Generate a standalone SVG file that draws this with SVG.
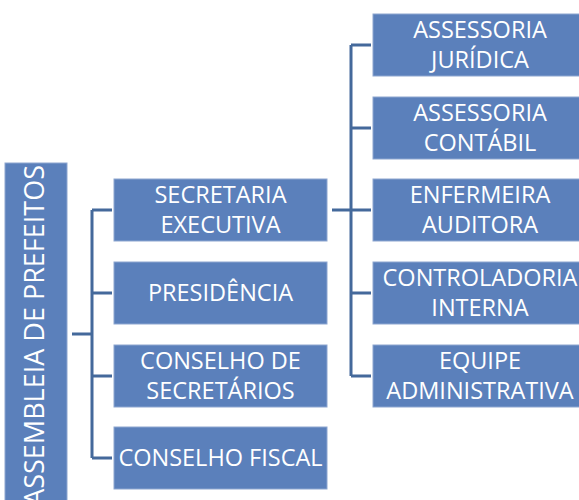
<svg xmlns="http://www.w3.org/2000/svg" width="579" height="500" viewBox="0 0 579 500">
<style>
.box{fill:#5B80BB;stroke:#8DA6D0;stroke-width:1}
.t{font-family:"Open Sans","Noto Sans","Liberation Sans",sans-serif;font-size:23.5px;fill:#ffffff;text-anchor:middle}
.tl{font-family:"Open Sans","Noto Sans","Liberation Sans",sans-serif;font-size:27px;fill:#ffffff;text-anchor:end}
.c{fill:none;stroke:#44699B;stroke-width:3}
</style>
<rect width="579" height="500" fill="#ffffff"/>
<g id="connectors">
<path class="c" d="M72,334 H92 M92,210 V458 M92,210 H112 M92,293 H112 M92,376 H112 M92,458 H112"/>
<path class="c" d="M332,210 H351 M351,45 V376 M351,45 H371 M351,128 H371 M351,210 H371 M351,293 H371 M351,376 H371"/>
</g>
<g id="assembleia">
<rect class="box" x="5" y="163" width="62" height="345"/>
<text class="tl" transform="translate(44,165) rotate(-90)">ASSEMBLEIA DE PREFEITOS</text>
</g>
<g id="secretaria">
<rect class="box" x="114" y="179" width="213" height="62"/>
<text class="t" x="220.5" y="203">SECRETARIA</text>
<text class="t" x="220.5" y="233">EXECUTIVA</text>
</g>
<g id="presidencia">
<rect class="box" x="114" y="262" width="213" height="62"/>
<text class="t" x="220.5" y="301">PRESIDÊNCIA</text>
</g>
<g id="conselho-secretarios">
<rect class="box" x="114" y="345" width="213" height="62"/>
<text class="t" x="220.5" y="369">CONSELHO DE</text>
<text class="t" x="220.5" y="399">SECRETÁRIOS</text>
</g>
<g id="conselho-fiscal">
<rect class="box" x="114" y="427" width="213" height="62"/>
<text class="t" x="220.5" y="466">CONSELHO FISCAL</text>
</g>
<g id="assessoria-juridica">
<rect class="box" x="373" y="14" width="214" height="62"/>
<text class="t" x="480" y="38">ASSESSORIA</text>
<text class="t" x="480" y="68">JURÍDICA</text>
</g>
<g id="assessoria-contabil">
<rect class="box" x="373" y="97" width="214" height="62"/>
<text class="t" x="480" y="121">ASSESSORIA</text>
<text class="t" x="480" y="151">CONTÁBIL</text>
</g>
<g id="enfermeira">
<rect class="box" x="373" y="179" width="214" height="62"/>
<text class="t" x="480" y="203">ENFERMEIRA</text>
<text class="t" x="480" y="233">AUDITORA</text>
</g>
<g id="controladoria">
<rect class="box" x="373" y="262" width="214" height="62"/>
<text class="t" x="480" y="286">CONTROLADORIA</text>
<text class="t" x="480" y="316">INTERNA</text>
</g>
<g id="equipe">
<rect class="box" x="373" y="345" width="214" height="62"/>
<text class="t" x="480" y="369">EQUIPE</text>
<text class="t" x="480" y="399">ADMINISTRATIVA</text>
</g>
</svg>
